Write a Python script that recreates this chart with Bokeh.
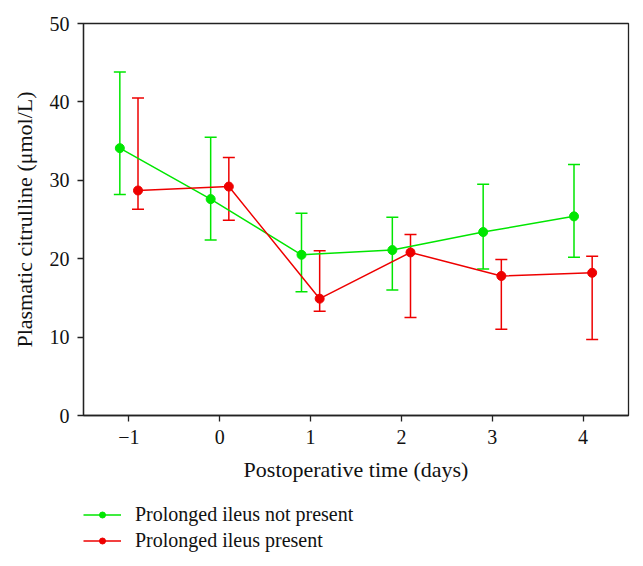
from bokeh.plotting import figure
from bokeh.layouts import column
from bokeh.models import ColumnDataSource, Whisker, TeeHead, Range1d, FixedTicker, Legend, LegendItem
from bokeh.embed import file_html
from bokeh.resources import INLINE

# ---- data ----
days = [-1, 0, 1, 2, 3, 4]
not_present_mean = [34.1, 27.6, 20.5, 21.1, 23.4, 25.4]
not_present_upper = [43.8, 35.5, 25.8, 25.3, 29.5, 32.0]
not_present_lower = [28.2, 22.4, 15.8, 16.0, 18.7, 20.2]
present_mean = [28.7, 29.2, 14.9, 20.8, 17.8, 18.2]
present_upper = [40.5, 32.9, 21.0, 23.1, 19.9, 20.3]
present_lower = [26.3, 24.9, 13.3, 12.5, 11.0, 9.7]
y_ticks = [0, 10, 20, 30, 40, 50]
x_ticks = [-1, 0, 1, 2, 3, 4]
series_labels = ["Prolonged ileus not present", "Prolonged ileus present"]

GREEN = "#00e600"
RED = "#ee0000"
FONT = "Liberation Serif"
DODGE = 0.1

src_g = ColumnDataSource(dict(x=[d - DODGE for d in days], y=not_present_mean,
                              upper=not_present_upper, lower=not_present_lower))
src_r = ColumnDataSource(dict(x=[d + DODGE for d in days], y=present_mean,
                              upper=present_upper, lower=present_lower))

p = figure(width=643, height=495, output_backend="svg", toolbar_location=None,
           x_range=Range1d(-1.5, 4.5), y_range=Range1d(0, 50),
           min_border_left=83, min_border_right=15, min_border_top=23, min_border_bottom=80)

p.xgrid.visible = False
p.ygrid.visible = False
p.outline_line_color = "#222222"
p.outline_line_width = 1.3

for src, col in ((src_g, GREEN), (src_r, RED)):
    w = Whisker(source=src, base="x", upper="upper", lower="lower",
                line_color=col, line_width=1.5,
                upper_head=TeeHead(size=12, line_color=col, line_width=1.5),
                lower_head=TeeHead(size=12, line_color=col, line_width=1.5))
    p.add_layout(w)

p.line("x", "y", source=src_g, line_color=GREEN, line_width=1.5)
p.scatter("x", "y", source=src_g, size=9, fill_color=GREEN, line_color=GREEN)
p.line("x", "y", source=src_r, line_color=RED, line_width=1.5)
p.scatter("x", "y", source=src_r, size=9, fill_color=RED, line_color=RED)

for ax in (p.xaxis[0], p.yaxis[0]):
    ax.axis_line_color = "#222222"
    ax.axis_line_width = 1.3
    ax.major_tick_line_color = "#222222"
    ax.major_tick_line_width = 1.3
    ax.major_tick_out = 6
    ax.major_tick_in = 0
    ax.minor_tick_line_color = None
    ax.major_label_text_font = FONT
    ax.major_label_text_font_size = "20px"
    ax.major_label_text_color = "#111111"
    ax.axis_label_text_font = FONT
    ax.axis_label_text_font_size = "22px"
    ax.axis_label_text_font_style = "normal"
    ax.axis_label_text_color = "#111111"

p.xaxis.ticker = FixedTicker(ticks=x_ticks)
p.yaxis.ticker = FixedTicker(ticks=y_ticks)
p.xaxis.axis_label = "Postoperative time (days)"
p.yaxis.axis_label = "Plasmatic citrulline (\u03bcmol/L)"
p.xaxis.major_label_standoff = 8
p.yaxis.major_label_standoff = 8
p.xaxis.axis_label_standoff = 10
p.yaxis.axis_label_standoff = 10

# legend lives in a small companion figure below the chart; its proxy
# glyphs share the chart's data but fall outside this figure's view
q = figure(width=643, height=71, output_backend="svg", toolbar_location=None,
           x_range=Range1d(-1.5, 4.5), y_range=Range1d(100, 101),
           min_border_left=83, min_border_right=15, min_border_top=0, min_border_bottom=0)
q.axis.visible = False
q.xgrid.visible = False
q.ygrid.visible = False
q.outline_line_color = None
qlg = q.line("x", "y", source=src_g, line_color=GREEN, line_width=1.5)
qsg = q.scatter("x", "y", source=src_g, size=7, fill_color=GREEN, line_color=GREEN)
qlr = q.line("x", "y", source=src_r, line_color=RED, line_width=1.5)
qsr = q.scatter("x", "y", source=src_r, size=7, fill_color=RED, line_color=RED)

legend = Legend(items=[LegendItem(label=series_labels[0], renderers=[qlg, qsg]),
                       LegendItem(label=series_labels[1], renderers=[qlr, qsr])],
                location=(0, 14), orientation="vertical",
                border_line_color=None, background_fill_alpha=0,
                padding=0, margin=0, spacing=3,
                glyph_width=38, glyph_height=15, label_height=20,
                label_standoff=14, label_text_font=FONT,
                label_text_font_size="20px", label_text_color="#111111")
q.add_layout(legend, "center")

layout = column(p, q, spacing=0)
open("out.html", "w").write(file_html(layout, INLINE))
